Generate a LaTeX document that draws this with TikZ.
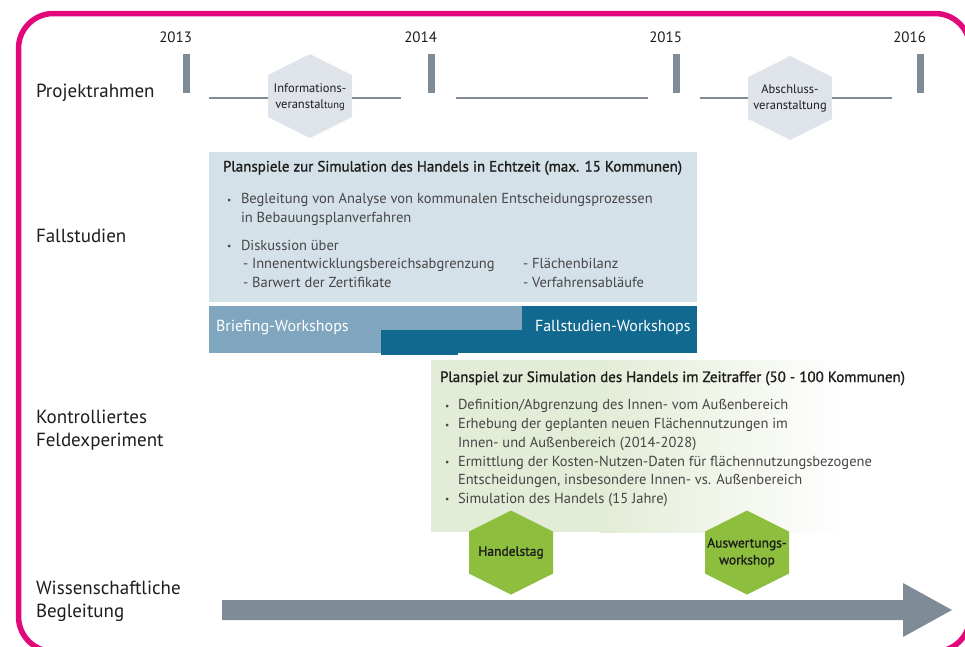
\documentclass[tikz,border=0pt]{standalone}
\usepackage{fontspec}
\setmainfont{PT Sans}
\newfontfamily\semib[FakeBold=1.2]{PT Sans}

\definecolor{framepink}{HTML}{E2087C}
\definecolor{slate}{HTML}{7F8C97}
\definecolor{hexlight}{HTML}{DFE4EA}
\definecolor{boxblue}{HTML}{D5E1E9}
\definecolor{barlight}{HTML}{7FA6BE}
\definecolor{bardark}{HTML}{11698F}
\definecolor{hexgreen}{HTML}{8DBE3E}
\definecolor{boxgreen}{HTML}{E3ECD6}
\definecolor{inkdark}{HTML}{1D1D1B}
\definecolor{inkgray}{HTML}{464646}

% pointy-top hexagon: fill colour, centre x, centre y
\newcommand{\HexFill}[3]{%
  \fill[#1] (#2,#3) ++(0,-42) -- ++(42,21) -- ++(0,42) -- ++(-42,21)
    -- ++(-42,-21) -- ++(0,-42) -- cycle;}

\begin{document}
\begin{tikzpicture}[x=1pt,y=-1pt,
  every node/.style={inner sep=0pt, outer sep=0pt},
  rowlabel/.style={anchor=base west, font=\fontsize{19}{23}\selectfont, text=inkdark, align=left},
  yearlabel/.style={anchor=base east, font=\fontsize{15}{18}\selectfont, text=inkdark},
  boxtitle/.style={anchor=base west, font=\semib\fontsize{15}{18}\selectfont, text=inkdark},
  boxtext/.style={anchor=base west, font=\fontsize{14.5}{17}\selectfont, text=inkgray},
  bulletmark/.style={anchor=base west, font=\fontsize{9.5}{10}\selectfont, text=inkgray},
  bartext/.style={anchor=base west, font=\fontsize{16}{18}\selectfont, text=white},
  hexgraytext/.style={minimum width=84pt, minimum height=84pt, align=center,
    font=\fontsize{12.5}{16}\selectfont, text=inkdark},
  hexgreentext/.style={minimum width=84pt, minimum height=84pt, align=center,
    font=\semib\fontsize{13.5}{17}\selectfont, text=inkdark},
  timeline/.style={draw=slate, line width=2pt},
  tick/.style={fill=slate},
]
\useasboundingbox (0,0) rectangle (965,646);
\clip (0,0) rectangle (965,646);

% outer frame (runs past the right and bottom edges)
\draw[framepink, line width=5.5pt, rounded corners=35pt] (18.5,13.5) rectangle (970,651.5);

% row labels
\node[rowlabel] (lproj) at (36,97) {Projektrahmen};
\node[rowlabel] (lfall) at (36,242) {Fallstudien};
\node[rowlabel] (lkont) at (36,446) {Kontrolliertes\\Feldexperiment};
\node[rowlabel] (lwiss) at (36,617) {Wissenschaftliche\\Begleitung};

% years and tick marks
\node[yearlabel] (y2013) at (192,42) {2013};
\node[yearlabel] (y2014) at (437,42) {2014};
\node[yearlabel] (y2015) at (682,42) {2015};
\node[yearlabel] (y2016) at (926,42) {2016};
\fill[tick] (183,54) rectangle (190,93);
\fill[tick] (428,54) rectangle (435,93);
\fill[tick] (673,54) rectangle (680,93);
\fill[tick] (917,54) rectangle (924,93);

% project frame events
\HexFill{hexlight}{310}{96}
\HexFill{hexlight}{790}{98}
\node[hexgraytext] (info) at (310,97) {Informations-\\veranstal{\fontsize{10.5}{12}\selectfont tung}};
\node[hexgraytext] (absch) at (790,98.5) {Abschluss-\\veranstaltung};
\coordinate (t1) at (209,97.5);
\coordinate (t2) at (401,97.5);
\coordinate (t3) at (456,97.5);
\coordinate (t4) at (648,97.5);
\coordinate (t5) at (700,97.5);
\coordinate (t6) at (892,97.5);
\draw[timeline] (t1) -- (t1 -| info.west);
\draw[timeline] (t2 -| info.east) -- (t2);
\draw[timeline] (t3) -- (t4);
\draw[timeline] (t5) -- (t5 -| absch.west);
\draw[timeline] (t6 -| absch.east) -- (t6);

% case studies box
\fill[boxblue] (209,152) rectangle (697,302);
\node[boxtitle] (ftitle) at (223,171.5) {Planspiele zur Simulation des Handels in Echtzeit (max. 15 Kommunen)};
\node[bulletmark] at (227,203) {•};
\node[boxtext] (f1) at (241,203.5) {Begleitung von Analyse von kommunalen Entscheidungsprozessen};
\node[boxtext] (f2) at (241,222) {in Bebauungsplanverfahren};
\node[bulletmark] at (227,249.5) {•};
\node[boxtext] (f3) at (241,250) {Diskussion über};
\node[boxtext] (f4) at (243,268.5) {- Innenentwicklungsbereichsabgrenzung};
\node[boxtext] (f5) at (243,287) {- Barwert der Zertifikate};
\node[boxtext] (f6) at (523,268.5) {- Flächenbilanz};
\node[boxtext] (f7) at (523,287) {- Verfahrensabläufe};

% workshop bars
\fill[barlight] (209,306) rectangle (522,353);
\fill[bardark] (522,306) rectangle (697,353);
\fill[bardark] (381,330) rectangle (697,353);
\fill[bardark] (381,352) rectangle (458,355);
\node[bartext] (brief) at (216,331) {Briefing-Workshops};
\node[bartext] (fallw) at (535,331) {Fallstudien-Workshops};

% field experiment box with fading right edge
\fill[boxgreen] (431,360) rectangle (601,532);
\shade[left color=boxgreen, right color=white] (600,360) rectangle (845,532);
\node[boxtitle] (ktitle) at (440,382) {Planspiel zur Simulation des Handels im Zeitraffer (50 - 100 Kommunen)};
\node[bulletmark] at (445,409) {•};
\node[boxtext] (k1) at (458,409.5) {Definition/Abgrenzung des Innen- vom Außenbereich};
\node[bulletmark] at (445,428) {•};
\node[boxtext] (k2) at (458,428.5) {Erhebung der geplanten neuen Flächennutzungen im};
\node[boxtext] (k3) at (458,447) {Innen- und Außenbereich (2014-2028)};
\node[bulletmark] at (445,465.5) {•};
\node[boxtext] (k4) at (458,466) {Ermittlung der Kosten-Nutzen-Daten für flächennutzungsbezogene};
\node[boxtext] (k5) at (458,484.5) {Entscheidungen, insbesondere Innen- vs. Außenbereich};
\node[bulletmark] at (445,502.5) {•};
\node[boxtext] (k6) at (458,503) {Simulation des Handels (15 Jahre)};

% milestones
\HexFill{hexgreen}{511}{552.5}
\HexFill{hexgreen}{747}{552.5}
\node[hexgreentext] (handel) at (511,552.5) {Handelstag};
\node[hexgreentext] (ausw) at (747,552.5) {Auswertungs-\\workshop};

% scientific support arrow
\fill[slate] (222,600) -- (903,600) -- (903,583) -- (952,610) -- (903,637)
  -- (903,620) -- (222,620) -- cycle;
\end{tikzpicture}
\end{document}
